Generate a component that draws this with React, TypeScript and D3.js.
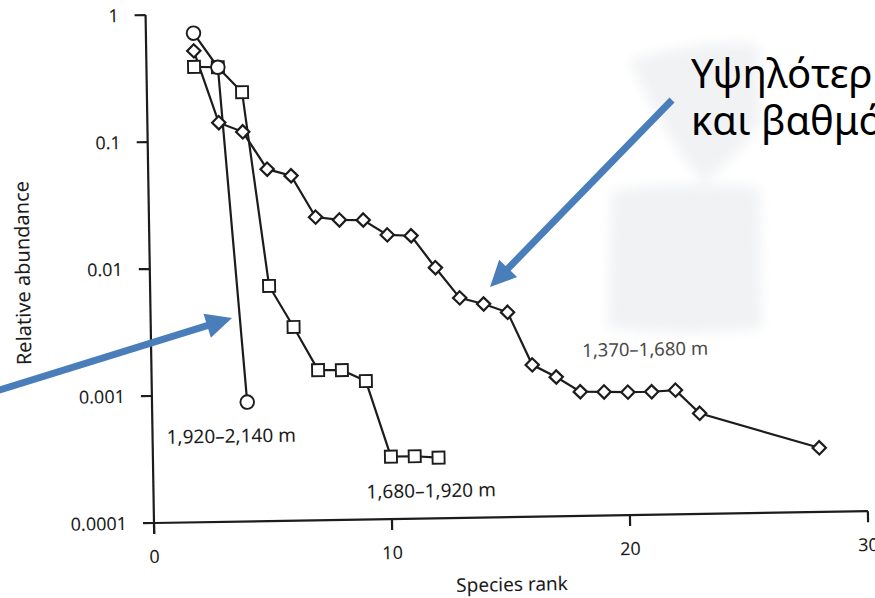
import React from "react";
import * as d3 from "d3";

const xTicks = [0, 10, 20, 30];
const yTicks = [1, 0.1, 0.01, 0.001, 0.0001];
const yTickLabels = ["1", "0.1", "0.01", "0.001", "0.0001"];

const circleRanks = [2, 3, 4];
const circleVals = [0.71, 0.38, 0.00087];

const squareRanks = [2, 3, 4, 5, 6, 7, 8, 9, 10, 11, 12];
const squareVals = [0.385, 0.38, 0.24, 0.0071, 0.00335, 0.00152, 0.00151, 0.00123, 0.00031, 0.00031, 0.0003];

const diamondRanks = [2, 3, 4, 5, 6, 7, 8, 9, 10, 11, 12, 13, 14, 15, 16, 17, 18, 19, 20, 21, 22, 23, 28];
const diamondVals = [0.515, 0.139, 0.117, 0.059, 0.052, 0.0244, 0.023, 0.0228, 0.0173, 0.0169, 0.0094, 0.0054, 0.0048, 0.0041, 0.00157, 0.00125, 0.00095, 0.00094, 0.00093, 0.00093, 0.00095, 0.00062, 0.00032];

const seriesLabels = ["1,920–2,140 m", "1,680–1,920 m", "1,370–1,680 m"];
const xTitle = "Species rank";
const yTitle = "Relative abundance";
const noteLines = ["Υψηλότερη ισοκατανομή", "και βαθμός ομοιομορφίας"];

const W = 875;
const H = 598;
const X0 = 154;
const Y0 = 523;
const INK = "#1c1c1c";
const BLUE = "#4a7ebb";
const FONT = "'Noto Sans', sans-serif";

function arrowPoly(x1: number, y1: number, x2: number, y2: number, sw: number, hl: number, hw: number) {
  const dx = x2 - x1, dy = y2 - y1;
  const L = Math.hypot(dx, dy);
  const ux = dx / L, uy = dy / L;
  const px = -uy, py = ux;
  const bx = x2 - ux * hl, by = y2 - uy * hl;
  const pts = [
    [x1 + px * sw / 2, y1 + py * sw / 2],
    [bx + px * sw / 2, by + py * sw / 2],
    [bx + px * hw / 2, by + py * hw / 2],
    [x2, y2],
    [bx - px * hw / 2, by - py * hw / 2],
    [bx - px * sw / 2, by - py * sw / 2],
    [x1 - px * sw / 2, y1 - py * sw / 2],
  ];
  return pts.map((p) => p.join(",")).join(" ");
}

export default function App() {
  const x = d3.scaleLinear().domain([0, 30]).range([X0, X0 + 30 * 23.8]);
  const y = d3.scaleLog().domain([0.0001, 1]).range([Y0, 15]);
  const line = d3
    .line<[number, number]>()
    .x((d) => x(d[0]))
    .y((d) => y(d[1]));

  const circ = circleRanks.map((r, i) => [r, circleVals[i]] as [number, number]);
  const sq = squareRanks.map((r, i) => [r, squareVals[i]] as [number, number]);
  const dia = diamondRanks.map((r, i) => [r, diamondVals[i]] as [number, number]);

  const sw = 2.2;

  return (
    <svg width={W} height={H} style={{ display: "block", position: "absolute", left: 0, top: 0, background: "#fff" }}>
      <defs>
        <filter id="soft" x="-20%" y="-20%" width="140%" height="140%">
          <feGaussianBlur stdDeviation="6" />
        </filter>
      </defs>
      <rect x={0} y={0} width={W} height={H} fill="#ffffff" />
      {/* faint scan artifact */}
      <g fill="#eceef1" opacity={0.75} filter="url(#soft)">
        <path d="M630,60 C665,48 722,40 758,44 L762,120 C742,150 722,170 703,182 C682,160 652,112 630,60 Z" />
        <path d="M612,190 C662,184 720,182 760,188 L762,328 C720,334 652,334 608,328 Z" />
      </g>

      <g transform={`rotate(-0.95, ${X0}, ${Y0})`}>
        {/* y axis */}
        <line x1={x(0)} x2={x(0)} y1={y(1)} y2={Y0 + 11} stroke={INK} strokeWidth={2.2} />
        {yTicks.map((t, i) => (
          <g key={"yt" + i}>
            <line x1={x(0) - 11} x2={x(0)} y1={y(t)} y2={y(t)} stroke={INK} strokeWidth={2.2} />
            <text x={x(0) - 27} y={y(t)} dy="0.36em" textAnchor="end" fontFamily={FONT} fontSize={18} fill={INK}>
              {yTickLabels[i]}
            </text>
          </g>
        ))}
        {/* x axis */}
        <line x1={x(0)} x2={x(30)} y1={Y0} y2={Y0} stroke={INK} strokeWidth={2.2} />
        {xTicks.map((t, i) => (
          <g key={"xt" + i}>
            <line x1={x(t)} x2={x(t)} y1={Y0} y2={Y0 + 11} stroke={INK} strokeWidth={2.2} />
            <text x={x(t)} y={Y0 + 40} textAnchor="middle" fontFamily={FONT} fontSize={18} fill={INK}>
              {t}
            </text>
          </g>
        ))}
        <text x={(x(0) + x(30)) / 2} y={Y0 + 74} textAnchor="middle" fontFamily={FONT} fontSize={19} fill={INK}>
          {xTitle}
        </text>
        <text
          transform={`translate(34, ${y(0.01) + 2}) rotate(-90)`}
          textAnchor="middle"
          fontFamily={FONT}
          fontSize={20}
          fill={INK}
        >
          {yTitle}
        </text>

        {/* lines */}
        <path d={line(dia) || ""} fill="none" stroke={INK} strokeWidth={sw} />
        <path d={line(sq) || ""} fill="none" stroke={INK} strokeWidth={sw} />
        <path d={line(circ) || ""} fill="none" stroke={INK} strokeWidth={sw} />

        {/* markers */}
        {dia.map((d, i) => (
          <rect
            key={"d" + i}
            x={-4.7}
            y={-4.7}
            width={9.4}
            height={9.4}
            transform={`translate(${x(d[0])},${y(d[1])}) rotate(45)`}
            fill="#fff"
            stroke={INK}
            strokeWidth={sw}
          />
        ))}
        {sq.map((d, i) => (
          <rect key={"s" + i} x={x(d[0]) - 6} y={y(d[1]) - 6} width={12} height={12} fill="#fff" stroke={INK} strokeWidth={1.9} />
        ))}
        {circ.map((d, i) => (
          <circle key={"c" + i} cx={x(d[0])} cy={y(d[1])} r={6.8} fill="#fff" stroke={INK} strokeWidth={1.9} />
        ))}

        {/* series labels */}
        <text x={168} y={444} fontFamily={FONT} fontSize={19} fill={INK}>{seriesLabels[0]}</text>
        <text x={367} y={502} fontFamily={FONT} fontSize={19} fill={INK}>{seriesLabels[1]}</text>
        <text x={585} y={364} fontFamily={FONT} fontSize={18.5} fill="#4a4a4a">{seriesLabels[2]}</text>
      </g>

      {/* overlay annotations */}
      <polygon points={arrowPoly(-20, 396, 232, 318, 7, 26, 25)} fill={BLUE} />
      <polygon points={arrowPoly(672, 100, 490, 287, 7, 26, 25)} fill={BLUE} />
      {noteLines.map((t, i) => (
        <text key={"n" + i} x={691} y={88 + i * 47} fontFamily={FONT} fontSize={40} fill="#000">
          {t}
        </text>
      ))}
    </svg>
  );
}
